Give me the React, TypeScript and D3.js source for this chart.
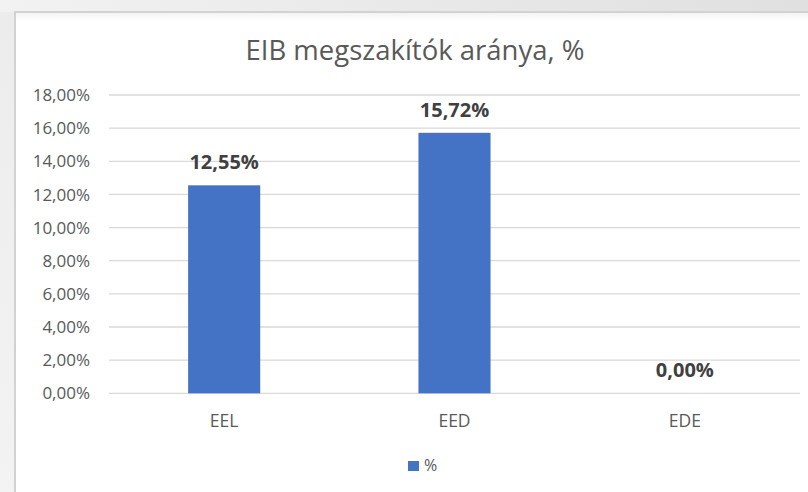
import React from "react";
import * as d3 from "d3";

const categories = ["EEL", "EED", "EDE"];
const values = [12.55, 15.72, 0.0];
const yTicks = [0, 2, 4, 6, 8, 10, 12, 14, 16, 18];
const title = "EIB megszakítók aránya, %";
const seriesName = "%";

const W = 808;
const H = 492;
const FONT = "'Open Sans', 'Noto Sans', sans-serif";

export default function App() {
  const x = d3.scaleBand<string>().domain(categories).range([109, 800]).paddingInner(0.687).paddingOuter(0.3435);
  const y = d3.scaleLinear().domain([0, 18]).range([393.3, 95]);
  const fmt = (v: number) => v.toFixed(2).replace(".", ",") + "%";

  return (
    <svg width={W} height={H} style={{ position: "absolute", left: 0, top: 0, display: "block" }}>
      <defs>
        <linearGradient id="bgTop" x1="0" y1="0" x2="1" y2="0">
          <stop offset="0" stopColor="#f2f2f2" />
          <stop offset="1" stopColor="#e0e0e0" />
        </linearGradient>
        <linearGradient id="bgLeft" x1="0" y1="0" x2="0" y2="1">
          <stop offset="0" stopColor="#ececec" />
          <stop offset="1" stopColor="#f3f3f3" />
        </linearGradient>
        <linearGradient id="innerShadow" x1="0" y1="0" x2="0" y2="1">
          <stop offset="0" stopColor="#f3f3f3" />
          <stop offset="1" stopColor="#ffffff" />
        </linearGradient>
      </defs>
      <rect x={0} y={0} width={W} height={H} fill="url(#bgLeft)" />
      <rect x={0} y={0} width={W} height={12} fill="url(#bgTop)" />
      <rect x={15} y={12} width={W} height={H} fill="#ffffff" stroke="#d2d2d2" strokeWidth={2} />
      <rect x={16} y={13} width={W} height={8} fill="url(#innerShadow)" />

      <text x={415} y={60} textAnchor="middle" fontFamily={FONT} fontSize={27.5} fill="#595959">
        {title}
      </text>

      {yTicks.map((t) => (
        <g key={t}>
          <line x1={109} x2={800} y1={y(t)} y2={y(t)} stroke="#d9d9d9" strokeWidth={1.3} />
          <text x={90} y={y(t)} dy="0.36em" textAnchor="end" fontFamily={FONT} fontSize={17} fill="#595959">
            {fmt(t)}
          </text>
        </g>
      ))}

      {categories.map((c, i) => (
        <g key={c}>
          <rect x={x(c)} y={y(values[i])} width={x.bandwidth()} height={y(0) - y(values[i])} fill="#4472c4" />
          <text
            x={(x(c) as number) + x.bandwidth() / 2}
            y={y(values[i]) - 16}
            textAnchor="middle"
            fontFamily={FONT}
            fontWeight="bold"
            fontSize={20}
            fill="#404040"
          >
            {fmt(values[i])}
          </text>
          <text
            x={(x(c) as number) + x.bandwidth() / 2}
            y={427}
            textAnchor="middle"
            fontFamily={FONT}
            fontSize={17.5}
            fill="#595959"
          >
            {c}
          </text>
        </g>
      ))}

      <rect x={408} y={461} width={11} height={10} fill="#4472c4" />
      <text x={424} y={471} fontFamily={FONT} fontSize={16} fill="#595959">
        {seriesName}
      </text>
    </svg>
  );
}
